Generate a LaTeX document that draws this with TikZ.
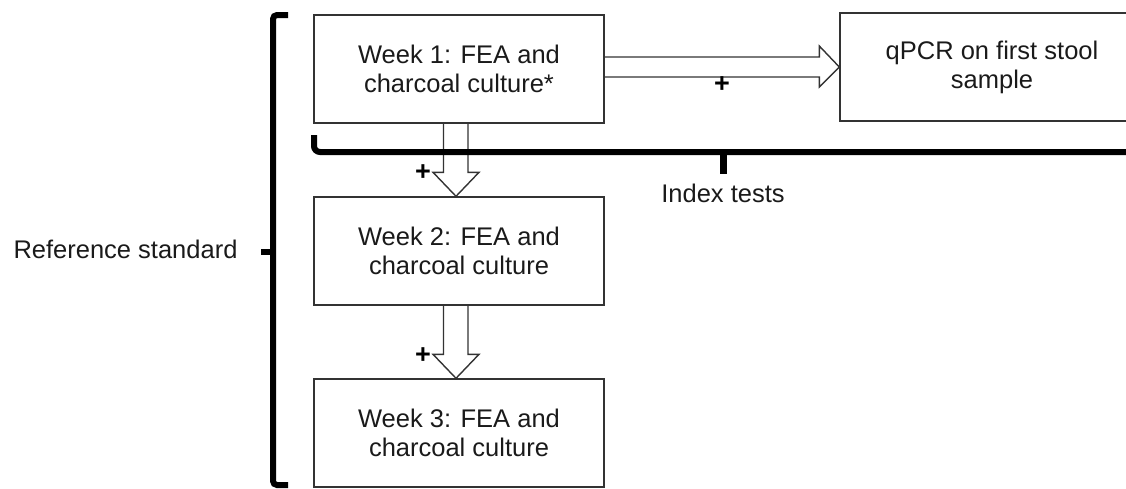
\documentclass[tikz,border=0pt]{standalone}
\usepackage{fontspec}
\setmainfont{Liberation Sans}
\usetikzlibrary{calc}
\definecolor{ink}{HTML}{1A1A1A}
\definecolor{edge}{HTML}{333333}
\begin{document}
\begin{tikzpicture}[x=1pt,y=-1pt,
  box/.style={draw=edge, line width=1.4pt, minimum width=290pt, minimum height=108pt, inner sep=0pt, align=center, text=ink, font=\fontsize{25.5}{29}\selectfont},
  blockarrow/.style={draw=edge, line width=1.4pt, line join=miter},
  bracket/.style={draw=black, line width=6pt},
  lab/.style={text=ink, inner sep=0pt, font=\fontsize{25.5}{29}\selectfont},
  plus/.style={text=black, inner sep=0pt, font=\fontsize{27}{27}\bfseries\selectfont}]
\useasboundingbox (0,0) rectangle (1126,488);
% boxes
\node[box] (w1) at (459,69) {Week 1: FEA and\\charcoal culture*};
\node[box, minimum width=304pt] (q) at (992,67) {qPCR on first stool\\sample};
\node[box] (w2) at (459,251) {Week 2: FEA and\\charcoal culture};
\node[box] (w3) at (459,433) {Week 3: FEA and\\charcoal culture};
% right block arrow
\draw[blockarrow] let \p1=(q.west), \p2=(w1.east) in
  (\x2,\y1+10pt) -- (\x1-20pt,\y1+10pt) -- (\x1-20pt,\y1+21pt) -- (\p1)
  -- (\x1-20pt,\y1-20pt) -- (\x1-20pt,\y1-10pt) -- (\x2,\y1-10pt);
% down block arrows
\draw[blockarrow] let \p1=(w2.north), \p2=(w1.south) in
  (\x1-15.5pt,\y2) -- (\x1-15.5pt,\y1+24pt) -- (\x1-26pt,\y1+24pt) -- (\x1-3pt,\y1)
  -- (\x1+20pt,\y1+24pt) -- (\x1+9pt,\y1+24pt) -- (\x1+9pt,\y2);
\draw[blockarrow] let \p1=(w3.north), \p2=(w2.south) in
  (\x1-15.5pt,\y2) -- (\x1-15.5pt,\y1+24pt) -- (\x1-26pt,\y1+24pt) -- (\x1-3pt,\y1)
  -- (\x1+20pt,\y1+24pt) -- (\x1+9pt,\y1+24pt) -- (\x1+9pt,\y2);
% plus signs
\node[plus] (p1) at (722,85) {+};
\node[plus] (p2) at (423,173) {+};
\node[plus] (p3) at (423,356) {+};
% index tests brace
\coordinate (ib0) at (314,135);
\coordinate (ib1) at (314,152);
\coordinate (ib2) at (1140,152);
\coordinate (ibm) at (723,152);
\coordinate (ibt) at (723,174);
\draw[bracket, rounded corners=6pt] (ib0) -- (ib1) -- (ib2);
\draw[bracket, line width=7pt] (ibm) -- (ibt);
\node[lab] (it) at (723,193) {Index tests};
% reference standard bracket
\coordinate (rb0) at (288,15);
\coordinate (rb1) at (273,15);
\coordinate (rb2) at (273,485);
\coordinate (rb3) at (288,485);
\coordinate (rbm) at (273,252);
\coordinate (rbt) at (261,252);
\draw[bracket, rounded corners=4pt] (rb0) -- (rb1) -- (rb2) -- (rb3);
\draw[bracket] (rbm) -- (rbt);
\node[lab] (rs) at (125.5,249) {Reference standard};
\end{tikzpicture}
\end{document}
